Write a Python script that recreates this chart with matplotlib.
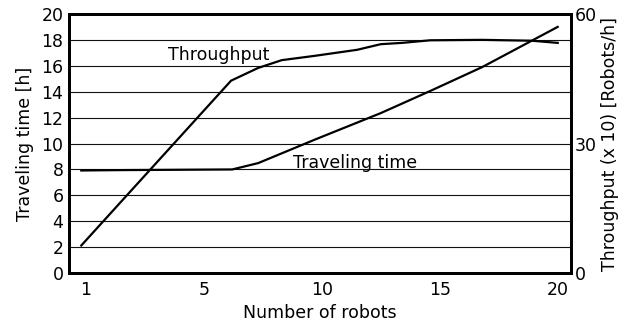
import matplotlib
matplotlib.use("Agg")
import matplotlib.pyplot as plt

plt.rcParams["font.family"] = ["DejaVu Sans"]
plt.rcParams["font.size"] = 12.5

# Category positions along the x axis and their labels
xtick_pos = [0, 5, 10, 15, 20]
xtick_labels = ["1", "5", "10", "15", "20"]

# Traveling time [h]
travel_x = [-0.2, 1.5, 6.2, 7.3, 9.7, 12.5, 14.65, 16.8, 20.0]
travel_h = [7.92, 7.95, 8.0, 8.49, 10.3, 12.35, 14.1, 15.9, 19.0]

# Throughput (x 10) [Robots/h]
thr_x = [-0.2, 6.15, 7.3, 8.3, 9.7, 11.5, 12.5, 13.4, 14.6, 16.8, 18.9, 20.0]
thr_val = [6.4, 44.55, 47.5, 49.3, 50.3, 51.7, 53.0, 53.3, 53.9, 54.0, 53.8, 53.3]

left_ticks = list(range(0, 21, 2))
right_ticks = [0, 30, 60]

fig = plt.figure(figsize=(6.35, 3.24), dpi=100)
ax = fig.add_axes([0.1087, 0.157, 0.790, 0.800])
ax2 = ax.twinx()

for y in left_ticks[1:-1]:
    ax.axhline(y, color="#111111", linewidth=0.8, zorder=1)

ax.plot(travel_x, travel_h, color="black", linewidth=1.6, zorder=3)
ax2.plot(thr_x, thr_val, color="black", linewidth=1.6, zorder=3)

ax.set_xlim(-0.72, 20.55)
ax.set_ylim(0, 20)
ax2.set_ylim(0, 60)

ax.set_xticks(xtick_pos)
ax.set_xticklabels(xtick_labels)
ax.set_yticks(left_ticks)
ax2.set_yticks(right_ticks)

ax.tick_params(axis="x", length=0, pad=6)
ax.tick_params(axis="y", length=0, pad=4)
ax2.tick_params(axis="y", length=0, pad=3)

for a in (ax, ax2):
    for s in a.spines.values():
        s.set_linewidth(2.0)
        s.set_color("black")

ax.set_xlabel("Number of robots", labelpad=3)
ax.set_ylabel("Traveling time [h]", labelpad=5)
ax2.set_ylabel("Throughput (x 10) [Robots/h]", labelpad=3)

ax.text(3.47, 16.86, "Throughput", ha="left", va="center")
ax.text(8.77, 8.52, "Traveling time", ha="left", va="center")

fig.savefig("out.png", dpi=100)
